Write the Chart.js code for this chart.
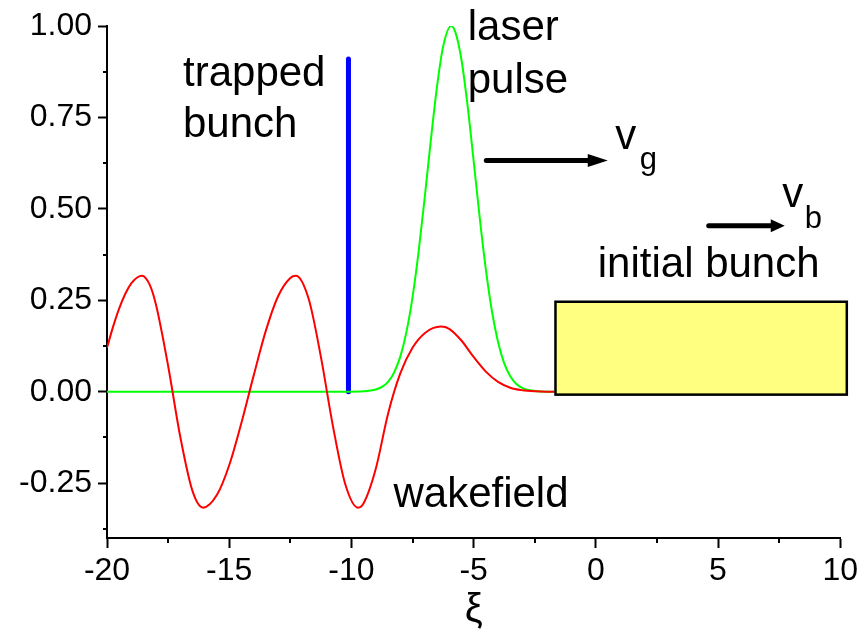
<!DOCTYPE html>
<html><head><meta charset="utf-8">
<script src="https://cdn.jsdelivr.net/npm/chart.js@4"></script>
<style>html,body{margin:0;padding:0;background:#fff}</style>
</head><body>
<canvas id="c" width="862" height="631"></canvas>
<script>
// ---- data ----
const xiWake = [-20,-19.75,-19.5,-19.25,-19,-18.75,-18.57,-18.25,-18,-17.5,-17,-16.5,-16.07,-15.5,-15,-14.5,-14,-13.5,-13,-12.5,-12.27,-11.75,-11.25,-10.75,-10.25,-9.73,-9.5,-9,-8.5,-8,-7.5,-7,-6.34,-6,-5.5,-5,-4.5,-4,-3.5,-3,-2.5,-2,-1.7];
const wakefield = [0.120,0.178,0.228,0.268,0.297,0.313,0.317,0.292,0.239,0.071,-0.124,-0.272,-0.317,-0.282,-0.201,-0.085,0.044,0.167,0.261,0.311,0.317,0.254,0.096,-0.096,-0.253,-0.317,-0.305,-0.21,-0.06,0.05,0.12,0.16,0.178,0.172,0.14,0.095,0.055,0.027,0.011,0.004,0.001,0,0];
const xiLaser = [-20,-10.1,-9.5,-9,-8.75,-8.5,-8.25,-8,-7.75,-7.5,-7.25,-7,-6.75,-6.5,-6.25,-5.92,-5.75,-5.5,-5.25,-5,-4.75,-4.5,-4.25,-4,-3.75,-3.5,-3.25,-3,-2.5,-2,-1.7];
const laserPulse = [0,0,0.001,0.006,0.013,0.027,0.053,0.096,0.163,0.258,0.383,0.531,0.688,0.833,0.943,1.0,0.984,0.909,0.784,0.632,0.476,0.335,0.220,0.136,0.078,0.042,0.021,0.010,0.002,0,0];
const xiTrapped = [-10.12,-10.12];
const trappedBunch = [0,0.91];
const initialBunchXi = [-1.65,10.27];
const initialBunchY = [-0.008,0.246];
const xTicks = [-20,-15,-10,-5,0,5,10];
const yTicks = [-0.25,0,0.25,0.5,0.75,1.0];
const xMinor = [-17.5,-12.5,-7.5,-2.5,2.5,7.5];
const yMinor = [-0.375,-0.125,0.125,0.375,0.625,0.875];
const arrowG = {x0:-4.48, x1:0.49, y:0.632};
const arrowB = {x0:4.62, x1:7.73, y:0.454};

const FONT = "'Liberation Sans', Arial, sans-serif";
const zip = (xs, ys) => xs.map((v,i)=>({x:v,y:ys[i]}));

const labels = [
  {t:'trapped', x:-16.89, y:0.836, s:42},
  {t:'bunch', x:-16.89, y:0.697, s:42},
  {t:'laser', x:-5.24, y:0.962, s:42},
  {t:'pulse', x:-5.24, y:0.818, s:42},
  {t:'wakefield', x:-8.28, y:-0.314, s:42},
  {t:'initial bunch', x:0.08, y:0.314, s:42},
  {t:'v', x:0.80, y:0.664, s:42},
  {t:'g', x:1.80, y:0.610, s:31},
  {t:'v', x:7.63, y:0.505, s:42},
  {t:'b', x:8.55, y:0.448, s:31}
];

const deco = {
  id:'deco',
  afterDatasetsDraw(chart){
    const {ctx, scales:{x,y}} = chart;
    ctx.save();
    const bx0 = x.getPixelForValue(initialBunchXi[0]), bx1 = x.getPixelForValue(initialBunchXi[1]);
    const by0 = y.getPixelForValue(initialBunchY[1]), by1 = y.getPixelForValue(initialBunchY[0]);
    ctx.fillStyle = '#ffff80';
    ctx.fillRect(bx0, by0, bx1-bx0, by1-by0);
    ctx.strokeStyle = '#000'; ctx.lineWidth = 2.5;
    ctx.strokeRect(bx0, by0, bx1-bx0, by1-by0);
    ctx.restore();
  },
  afterDraw(chart){
    const {ctx, scales:{x,y}} = chart;
    ctx.save();
    ctx.strokeStyle = '#000'; ctx.lineWidth = 2;
    const left = chart.chartArea.left, bottom = chart.chartArea.bottom;
    yMinor.forEach(v=>{const p=Math.round(y.getPixelForValue(v)); ctx.beginPath(); ctx.moveTo(left-4,p); ctx.lineTo(left,p); ctx.stroke();});
    xMinor.forEach(v=>{const p=Math.round(x.getPixelForValue(v)); ctx.beginPath(); ctx.moveTo(p,bottom); ctx.lineTo(p,bottom+5); ctx.stroke();});
    const arrow = (a, hl, hw) => {
      const x0=x.getPixelForValue(a.x0), x1=x.getPixelForValue(a.x1), py=y.getPixelForValue(a.y);
      ctx.strokeStyle='#000'; ctx.fillStyle='#000'; ctx.lineWidth=5; ctx.lineCap='round';
      ctx.beginPath(); ctx.moveTo(x0,py); ctx.lineTo(x1-hl+2,py); ctx.stroke();
      ctx.beginPath(); ctx.moveTo(x1,py); ctx.lineTo(x1-hl,py-hw); ctx.lineTo(x1-hl,py+hw); ctx.closePath(); ctx.fill();
    };
    arrow(arrowG, 20, 6.5);
    arrow(arrowB, 14, 6.5);
    ctx.fillStyle='#000'; ctx.textAlign='left'; ctx.textBaseline='alphabetic';
    labels.forEach(l=>{ctx.font = l.s+'px '+FONT; ctx.fillText(l.t, x.getPixelForValue(l.x), y.getPixelForValue(l.y));});
    ctx.restore();
  }
};

new Chart(document.getElementById('c'), {
  type:'scatter',
  data:{datasets:[
    {data:zip(xiWake,wakefield), showLine:true, borderColor:'#ff0000', borderWidth:2, pointRadius:0, cubicInterpolationMode:'monotone', fill:false},
    {data:zip(xiLaser,laserPulse), showLine:true, borderColor:'#00ff00', borderWidth:2, pointRadius:0, cubicInterpolationMode:'monotone', fill:false},
    {data:zip(xiTrapped,trappedBunch), showLine:true, borderColor:'#0000ff', borderWidth:5, borderCapStyle:'round', pointRadius:0, fill:false}
  ]},
  options:{
    responsive:false, animation:false,
    layout:{padding:{left:0, top:26, right:21, bottom:0}},
    plugins:{legend:{display:false}, tooltip:{enabled:false}},
    scales:{
      x:{type:'linear', min:-20, max:10,
        afterBuildTicks:s=>{s.ticks = xTicks.map(v=>({value:v}));},
        afterFit:s=>{s.height = 93;},
        border:{color:'#000', width:2},
        grid:{drawOnChartArea:false, tickLength:10, tickWidth:2, tickColor:'#000'},
        ticks:{font:{size:32, family:FONT}, color:'#000', padding:4, maxRotation:0, callback:v=>String(v)},
        title:{display:true, text:'ξ', font:{size:40, family:FONT, lineHeight:1.0}, color:'#000', padding:{top:0, bottom:0}}
      },
      y:{type:'linear', min:-0.4, max:1.0,
        afterBuildTicks:s=>{s.ticks = yTicks.map(v=>({value:v}));},
        afterFit:s=>{s.width = 107;},
        border:{color:'#000', width:2},
        grid:{drawOnChartArea:false, tickLength:9, tickWidth:2, tickColor:'#000'},
        ticks:{font:{size:32, family:FONT}, color:'#000', padding:6, callback:v=>Number(v).toFixed(2)}
      }
    }
  },
  plugins:[deco]
});
</script>
</body></html>
